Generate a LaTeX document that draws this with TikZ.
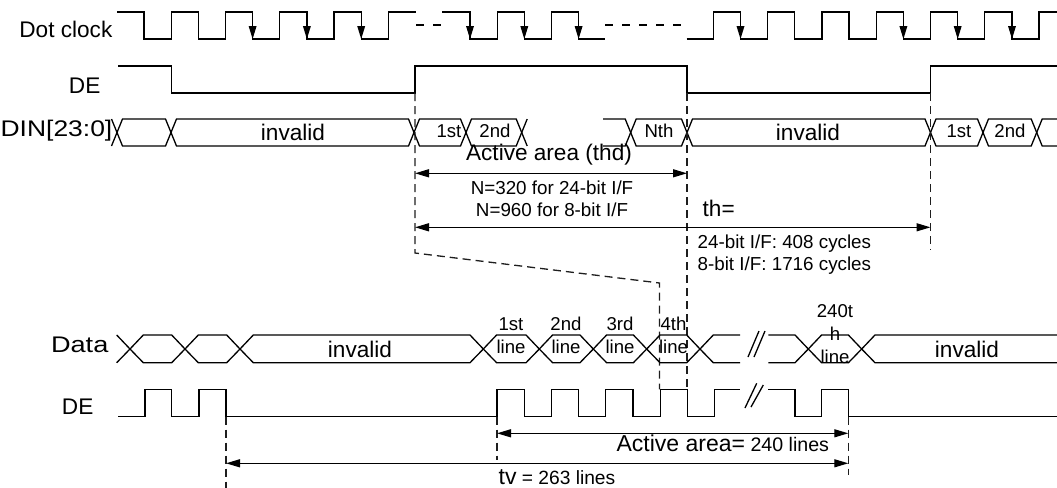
\documentclass[tikz,border=0pt]{standalone}
\usepackage{fontspec}
\setmainfont{Liberation Sans}
\usepackage{tikz}
\usetikzlibrary{arrows.meta}
\definecolor{tdInk}{RGB}{0,0,0}
\definecolor{tdGuide}{RGB}{30,30,30}

\begin{document}
\begin{tikzpicture}[x=0.5pt, y=-0.5pt, line width=0.65pt, tdInk,
    guide/.style={tdGuide, dash pattern=on 4pt off 2.5pt},
    gap/.style={dash pattern=on 4pt off 4.5pt},
    dim/.style={{Triangle[length=7pt,width=4pt]}-{Triangle[length=7pt,width=4pt]}},
    sigtext/.style={font=\fontsize{11.3}{13}\selectfont, inner sep=0pt},
    celltext/.style={font=\fontsize{9.3}{11.5}\selectfont, align=center, inner sep=0pt},
    notetext/.style={font=\fontsize{9.4}{11}\selectfont, inner sep=0pt}]
  \useasboundingbox (0,0) rectangle (1057,488);

  % Dot clock
  \node[sigtext, anchor=east] (clkLbl) at (113,29) {Dot clock};
  \draw (117,12) foreach \x in {144,198.3,252.6,306.9,361.2} { -- (\x,12) -- (\x,39) -- (\x+27.2,39) -- (\x+27.2,12) } -- (416,12);
  \draw[gap] (416,25) -- (442,25);
  \draw (442,12) foreach \x in {470,524.3} { -- (\x,12) -- (\x,39) -- (\x+27.2,39) -- (\x+27.2,12) } -- (578.6,12) -- (578.6,39) -- (605,39);
  \draw[gap] (605,25) -- (683,25);
  \draw (686.7,39) foreach \x in {713.3,767.6,821.9,876.2,930.5,984.8} { -- (\x,39) -- (\x,12) -- (\x+27.2,12) -- (\x+27.2,39) } -- (1039.1,39) -- (1039.1,12) -- (1057,12);
  \foreach \x in {252.6,306.9,361.2,470,524.3,578.6,740.5,903.4,957.7,1012}
    \fill (\x-4,26) -- (\x+4,26) -- (\x,39) -- cycle;

  % DE, horizontal
  \node[sigtext, anchor=east] (deLbl) at (101,86) {DE};
  \draw (118,66) -- (171.7,66) -- (171.7,93) -- (415,93) -- (415,66) -- (687,66) -- (687,93) -- (930.5,93) -- (930.5,66) -- (1057,66);

  % DIN bus
  \node[sigtext, anchor=west] (dinLbl) at (0,131) {\scalebox{1.17}[1]{DIN[23:0]}};
  \foreach \a/\b in {117/171, 171/414, 414/466, 466/521.7, 630.7/687, 687/930.5, 930.5/983, 983/1036.7}
    \draw (\a,132.5) -- (\a+5.5,119) -- (\b-5.5,119) -- (\b,132.5) -- (\b-5.5,146) -- (\a+5.5,146) -- cycle;
  \draw (111.5,119) -- (117,132.5) -- (111.5,146);
  \draw (527.2,119) -- (521.7,132.5) -- (527.2,146);
  \draw (603,119) -- (625.2,119) -- (630.7,132.5) -- (625.2,146) -- (603,146);
  \draw (1057,119) -- (1042.2,119) -- (1036.7,132.5) -- (1042.2,146) -- (1057,146);
  \foreach \x/\txt/\n in {293/invalid/dinA, 808/invalid/dinB}
    \node[sigtext] (\n) at (\x,132.5) {\txt};
  \foreach \x/\txt/\n in {449/1st/dinC, 495/2nd/dinD, 659/Nth/dinE, 959/1st/dinF, 1010/2nd/dinG}
    \node[celltext] (\n) at (\x,131) {\txt};

  % guide lines, top half
  \draw[guide] (415,93) -- (415,253) -- (659.5,283) -- (659.5,389.3);
  \draw[guide] (687,93) -- (687,389.3);
  \draw[guide] (930.5,93) -- (930.5,250);

  % thd and th
  \coordinate (thdL) at (415,173.3);
  \coordinate (thdR) at (687,173.3);
  \draw[dim] (thdL) -- (thdR);
  \node[sigtext] (thdLbl) at (549,155) {Active area (thd)};
  \node[notetext, align=center] (nLbl) at (552,198.5) {N=320 for 24-bit I/F\\N=960 for 8-bit I/F};
  \coordinate (thL) at (415,227.3);
  \coordinate (thR) at (930.5,227.3);
  \draw[dim] (thL) -- (thR);
  \node[sigtext, anchor=west] (thLbl) at (702,208) {th=};
  \node[notetext, anchor=west, align=left] (thVal) at (697,255) {24-bit I/F: 408 cycles\\8-bit I/F: 1716 cycles};

  % Data bus, vertical
  \node[sigtext, anchor=east] (dataLbl) at (109,345) {\scalebox{1.2}[1]{Data}};
  \foreach \a/\b in {130/185, 185/240, 240/483.3, 483.3/539.3, 539.3/593.3, 593.3/646.7, 646.7/700, 808.3/861.7}
    \draw (\a,349) -- (\a+13.3,335) -- (\b-13.3,335) -- (\b,349) -- (\b-13.3,362.7) -- (\a+13.3,362.7) -- cycle;
  \draw (116.7,335) -- (130,349) -- (116.7,362.7);
  \draw (740,335) -- (713.3,335) -- (700,349) -- (713.3,362.7) -- (740,362.7);
  \draw (768.3,335) -- (795,335) -- (808.3,349) -- (795,362.7) -- (768.3,362.7);
  \draw (1057,335) -- (875,335) -- (861.7,349) -- (875,362.7) -- (1057,362.7);
  \draw (748,357) -- (759,331) (754,357) -- (765,331);
  \foreach \x/\txt/\n in {360/invalid/datA, 967/invalid/datB}
    \node[sigtext] (\n) at (\x,349) {\txt};
  \foreach \x/\txt/\n in {511/1st/datC, 566/2nd/datD, 620/3rd/datE, 673.5/4th/datF}
    \node[celltext] (\n) at (\x,335.5) {\txt\\line};
  \node[celltext] (datG) at (835,334.5) {240t\\h\\line};

  % DE, vertical
  \node[sigtext, anchor=east] (de2Lbl) at (94,407) {DE};
  \draw (118,416.7) -- (145,416.7) -- (145,389.3) -- (171.7,389.3) -- (171.7,416.7) -- (199,416.7) -- (199,389.3) -- (226,389.3) -- (226,416.7) foreach \x in {497,551.4,605.8,660.2} { -- (\x,416.7) -- (\x,389.3) -- (\x+27.2,389.3) -- (\x+27.2,416.7) } -- (714.6,416.7) -- (714.6,389.3) -- (740,389.3);
  \draw (768.3,389.3) -- (795,389.3) -- (795,416.7) -- (821.7,416.7) -- (821.7,389.3) -- (848.3,389.3) -- (848.3,416.7) -- (1057,416.7);
  \draw (745,408) -- (756.7,383.3) (751,407) -- (763.3,385);

  % guide lines, bottom half
  \draw[guide] (226,416.7) -- (226,488);
  \draw[guide] (497,416.7) -- (497,460);
  \draw[guide] (848.3,416.7) -- (848.3,475);

  % active lines and tv
  \coordinate (actL) at (497,433.3);
  \coordinate (actR) at (848.3,433.3);
  \draw[dim] (actL) -- (actR);
  \node[anchor=west, inner sep=0pt] (actLbl) at (616,443) {\fontsize{11.5}{13}\selectfont Active area=\fontsize{9.8}{11}\selectfont\ 240 lines};
  \coordinate (tvL) at (226,463.3);
  \coordinate (tvR) at (848.3,463.3);
  \draw[dim] (tvL) -- (tvR);
  \node[anchor=west, inner sep=0pt] (tvLbl) at (498,477) {\fontsize{11.5}{13}\selectfont tv\fontsize{9.6}{11}\selectfont\ = 263 lines};
\end{tikzpicture}
\end{document}
